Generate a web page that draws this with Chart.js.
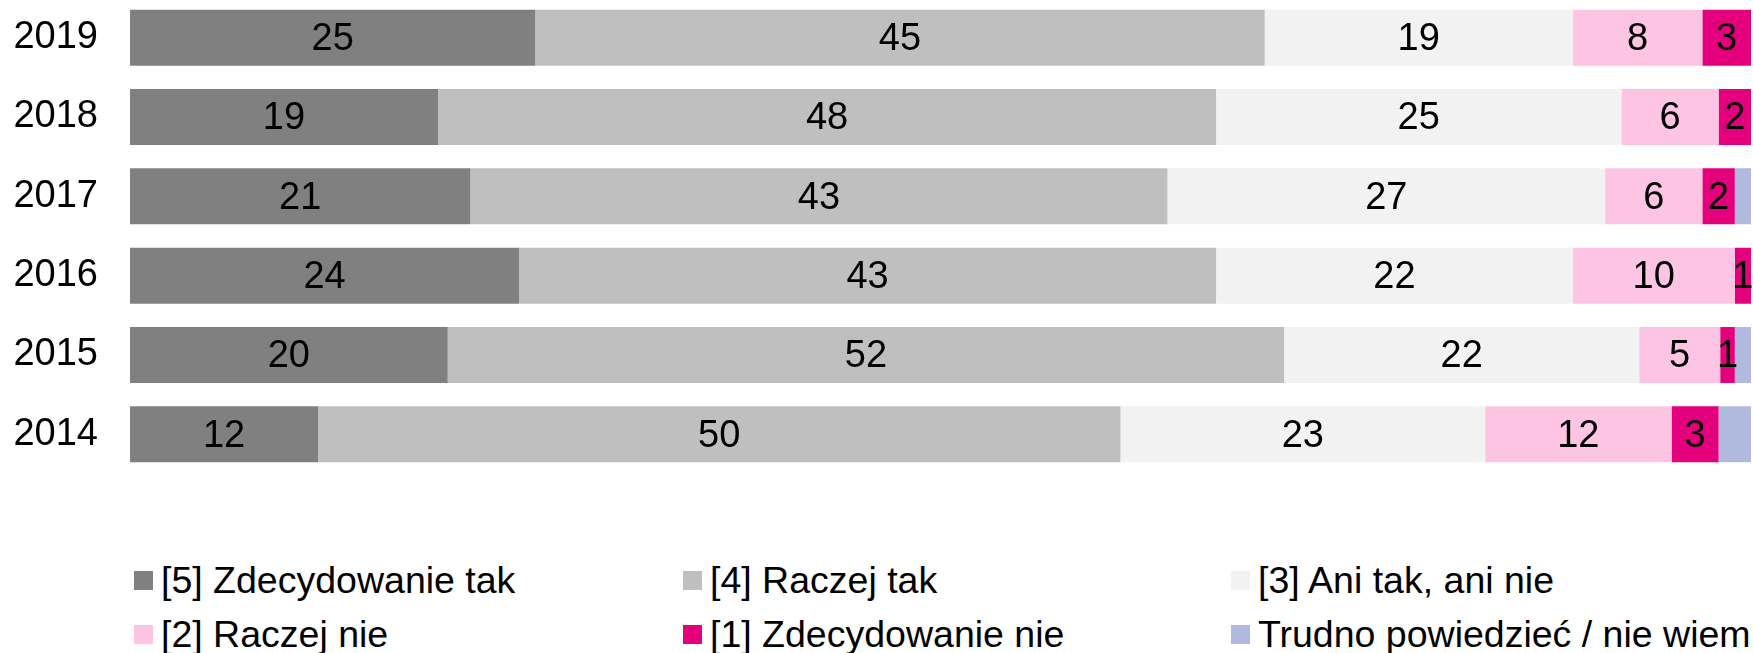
<!DOCTYPE html>
<html>
<head>
<meta charset="utf-8">
<script src="https://cdn.jsdelivr.net/npm/chart.js@4"></script>
<style>
  html, body { margin: 0; padding: 0; background: #fff; }
  body { width: 1753px; height: 653px; overflow: hidden; position: relative; font-family: "Liberation Sans", Arial, sans-serif; }
  #wrap { position: absolute; left: 0; top: -2px; width: 1753px; height: 476px; }
  #legend { position: absolute; left: 0; top: 562px; width: 1753px; }
  .item { position: absolute; display: flex; align-items: center; font-size: 37.5px; color: #000; white-space: nowrap; line-height: 1; }
  .box { width: 19px; height: 19px; margin-right: 8px; }
</style>
</head>
<body>
<div id="wrap"><canvas id="myChart"></canvas></div>
<div id="legend"></div>
<script>
// lata
const years = ['2019', '2018', '2017', '2016', '2015', '2014'];

// odpowiedzi
const answers = ['[5] Zdecydowanie tak', '[4] Raczej tak', '[3] Ani tak, ani nie', '[2] Raczej nie', '[1] Zdecydowanie nie', 'Trudno powiedzieć / nie wiem'];

const zdecydowanieTak = [25, 19, 21, 24, 19.6, 11.6];
const raczejTak = [45, 48, 43, 43, 51.6, 49.5];
const aniTakAniNie = [19, 25, 27, 22, 21.9, 22.5];
const raczejNie = [8, 6, 6, 10, 5, 11.5];
const zdecydowanieNie = [3, 2, 2, 1, 0.9, 2.9];
const trudno = [0, 0, 1, 0, 1, 2];

const colors = ['#808080', '#bfbfbf', '#f2f2f2', '#fdc5e3', '#e4007c', '#b0b9de'];

const series = [zdecydowanieTak, raczejTak, aniTakAniNie, raczejNie, zdecydowanieNie, trudno];

// etykiety w slupkach
const barLabels = {
  id: 'barLabels',
  afterDatasetsDraw(chart) {
    const c = chart.ctx;
    c.save();
    c.font = '38px "Liberation Sans", Arial, sans-serif';
    c.fillStyle = '#000';
    c.textAlign = 'center';
    c.textBaseline = 'middle';
    chart.data.datasets.forEach((ds, i) => {
      if (i === 5) return;
      chart.getDatasetMeta(i).data.forEach((bar, j) => {
        const v = ds.data[j];
        if (!v) return;
        const p = bar.getProps(['x', 'y', 'base'], true);
        c.fillText(Math.round(v), (p.x + p.base) / 2, p.y + 2);
      });
    });
    c.restore();
  }
};

const ctx = document.getElementById('myChart');
new Chart(ctx, {
  type: 'bar',
  data: {
    labels: years,
    datasets: series.map((d, i) => ({
      label: answers[i],
      data: d,
      backgroundColor: colors[i],
      borderWidth: 0,
      barPercentage: 1,
      categoryPercentage: 0.705
    }))
  },
  options: {
    indexAxis: 'y',
    responsive: true,
    maintainAspectRatio: false,
    animation: false,
    layout: { padding: { top: 0, right: 2, bottom: 0, left: 0 } },
    plugins: {
      legend: { display: false },
      tooltip: { enabled: false }
    },
    scales: {
      x: {
        stacked: true,
        min: 0,
        max: 100,
        display: false
      },
      y: {
        stacked: true,
        grid: { display: false, drawTicks: false },
        border: { display: false },
        ticks: {
          color: '#000',
          padding: 32,
          font: { family: '"Liberation Sans", Arial, sans-serif', size: 38 }
        },
        afterFit(s) {
          s.width = 130;
          s.paddingTop = 0;
          s.paddingBottom = 0;
        }
      }
    }
  },
  plugins: [barLabels]
});

// legenda
const legendX = [134, 683, 1231];
const legendY = [0, 54];
const legend = document.getElementById('legend');
answers.forEach((a, i) => {
  const el = document.createElement('div');
  el.className = 'item';
  el.style.left = legendX[i % 3] + 'px';
  el.style.top = legendY[Math.floor(i / 3)] + 'px';
  el.innerHTML = '<span class="box" style="background:' + colors[i] + '"></span><span>' + a + '</span>';
  legend.appendChild(el);
});
</script>
</body>
</html>
